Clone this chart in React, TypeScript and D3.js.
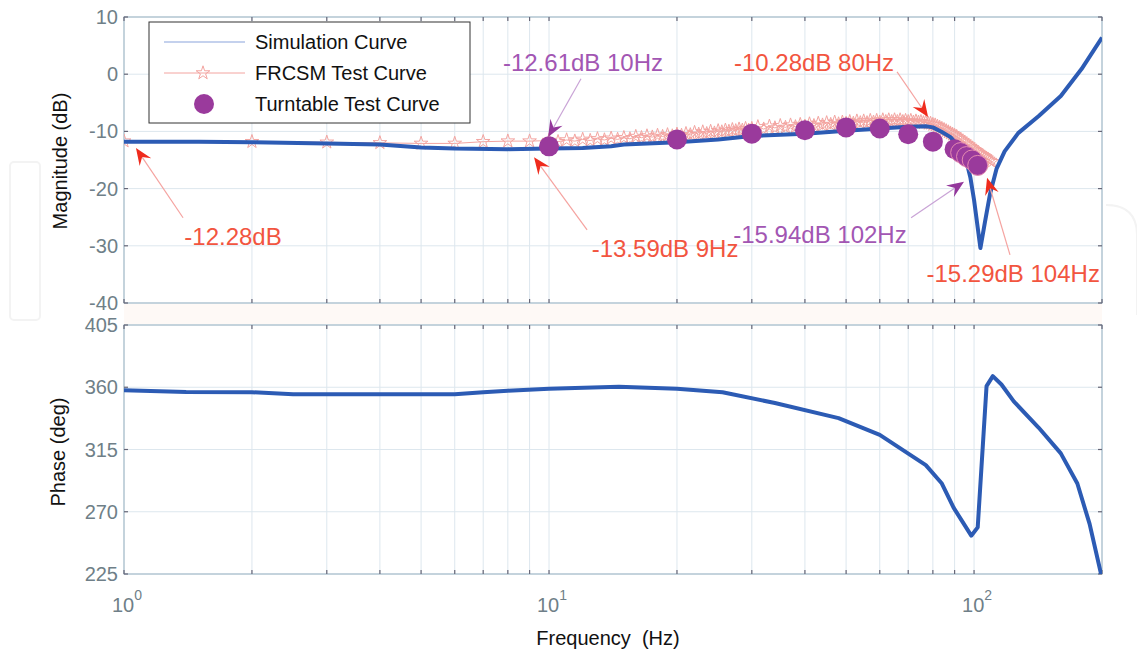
import React from "react";
import * as d3 from "d3";

// ---------- data ----------
const simFreq = [1, 1.5, 2, 3, 4, 5, 6, 8, 10, 12, 14, 15, 20, 25, 30, 40, 50, 60, 70, 77, 80, 84, 88, 92, 96, 98, 100, 103.5, 106, 109, 113, 118, 127, 142, 160, 179, 200];
const simMag = [-11.8, -11.8, -11.9, -12.1, -12.3, -12.8, -13.0, -13.1, -13.0, -12.9, -12.6, -12.3, -11.9, -11.4, -10.8, -10.4, -9.9, -9.5, -9.2, -9.1, -9.3, -10.1, -11.0, -12.6, -15.3, -18.0, -22.0, -30.4, -26.0, -21.0, -16.5, -13.5, -10.3, -7.3, -3.8, 0.9, 6.4];

const phaseFreq = [1, 1.4, 2, 2.5, 3, 4, 5, 6, 7, 8, 10, 14.6, 20, 25.6, 34, 48, 60, 77, 84, 89.5, 98.5, 102, 107, 110.7, 116, 124, 142, 160, 175, 187, 200];
const phaseDeg = [357.9, 356.6, 356.4, 355.0, 355.0, 355.0, 355.0, 355.0, 356.4, 357.5, 358.9, 360.3, 358.9, 356.4, 348.6, 337.7, 325.6, 303.7, 290.4, 273.0, 252.7, 258.7, 360.8, 368.0, 362.0, 349.8, 330.7, 312.2, 290.4, 261.2, 222.0];

const frcsmFreq = [1, 2, 3, 4, 5, 6, 7, 8, 9,
  10, 10.5, 11, 11.5, 12, 12.5, 13, 13.5, 14, 14.5, 15, 15.5, 16, 16.5, 17, 17.5, 18, 18.5, 19, 19.5,
  20, 20.5, 21, 21.5, 22, 22.5, 23, 23.5, 24, 24.5, 25, 25.5, 26, 26.5, 27, 27.5, 28, 28.5, 29, 29.5,
  30, 31, 32, 33, 34, 35, 36, 37, 38, 39, 40, 41, 42, 43, 44, 45, 46, 47, 48, 49, 50,
  51, 52, 53, 54, 55, 56, 57, 58, 59, 60, 61, 62, 63, 64, 65, 66, 67, 68, 69, 70,
  71, 72, 73, 74, 75, 76, 77, 78, 79, 80, 81, 82, 83, 84, 85, 86, 87, 88, 89, 90,
  91, 92, 93, 94, 95, 96, 97, 98, 99, 100, 101, 102, 103, 104, 105, 106, 107, 108, 109, 110];
const frcsmMag = [-11.7, -11.8, -11.9, -12.0, -12.1, -12.1, -11.8, -11.7, -11.7,
  -11.6, -11.8, -11.5, -11.7, -11.4, -11.6, -11.3, -11.5, -11.2, -11.4, -11.1, -11.3, -10.9, -11.1, -10.8, -11.0, -10.7, -10.9, -10.6, -10.8,
  -10.5, -10.7, -10.4, -10.6, -10.2, -10.5, -10.1, -10.4, -10.0, -10.3, -9.9, -10.1, -9.8, -10.0, -9.7, -9.9, -9.6, -9.8, -9.5, -9.8,
  -9.5, -9.2, -9.6, -9.1, -9.4, -9.0, -9.3, -8.9, -9.2, -8.8, -9.1, -8.7, -9.0, -8.6, -8.9, -8.5, -8.8, -8.4, -8.7, -8.4, -8.6,
  -8.3, -8.6, -8.2, -8.5, -8.2, -8.5, -8.1, -8.4, -8.1, -8.4, -8.0, -8.3, -8.0, -8.3, -8.0, -8.3, -8.0, -8.3, -8.1, -8.3,
  -8.1, -8.4, -8.2, -8.4, -8.3, -8.5, -8.4, -8.6, -8.6, -8.8, -8.9, -9.1, -9.3, -9.5, -9.7, -9.9, -10.1, -10.3, -10.5, -10.7,
  -10.9, -11.2, -11.4, -11.7, -11.9, -12.2, -12.4, -12.7, -12.9, -13.2, -13.4, -13.7, -13.9, -14.1, -14.3, -14.5, -14.7, -14.9, -15.1, -15.3];

const turnFreq = [10, 20, 30, 40, 50, 60, 70, 80, 90, 93, 96, 99, 102];
const turnMag = [-12.61, -11.4, -10.4, -9.8, -9.3, -9.5, -10.5, -11.8, -13.1, -13.7, -14.4, -15.0, -15.94];

const magTicks = [10, 0, -10, -20, -30, -40];
const phaseTicks = [405, 360, 315, 270, 225];
const decadeTicks = [1, 10, 100];
const gridFreqs = [1, 2, 3, 4, 5, 6, 7, 8, 9, 10, 20, 30, 40, 50, 60, 70, 80, 90, 100, 200];
const legendLabels = ["Simulation Curve", "FRCSM Test Curve", "Turntable Test Curve"];

// annotations: text, colour kind, text pos (f, dB), tail (f, dB), tip (f, dB)
const annText = ["-12.28dB", "-12.61dB 10Hz", "-13.59dB 9Hz", "-10.28dB 80Hz", "-15.94dB 102Hz", "-15.29dB 104Hz"];
const annKind = ["red", "purple", "red", "red", "purple", "red"];
const annTextPos = [[1.805, -28.3], [12.02, 2.1], [18.75, -30.4], [42.03, 2.1], [43.4, -28.1], [123.6, -34.8]];
const annTail = [[1.377, -25.1], [11.89, -0.8], [12.29, -27.2], [65.9, 0.4], [71.1, -25.1], [121.5, -31.6]];
const annTip = [[1.067, -12.9], [9.95, -11.0], [9.22, -14.5], [77.97, -7.5], [94.7, -18.8], [107.3, -18.1]];

// ---------- layout ----------
const W = 1137, H = 653;
const X0 = 124, X1 = 1102;
const TOP = { y0: 17, y1: 303 };
const BOT = { y0: 325, y1: 574 };
const FONT = "'Liberation Sans', Arial, sans-serif";
const BLUE = "#2c5bb4";
const PINK = "#f3a4a0";
const PURPLE = "#9a3a9c";
const RED_TXT = "#f2553f";
const PURPLE_TXT = "#a256b3";
const TICK_TXT = "#6f7f88";
const GRID = "#dde7ee";
const BOX = "#a9bfcb";

const x = d3.scaleLog().domain([1, 200]).range([X0, X1]);
const yMag = d3.scaleLinear().domain([10, -40]).range([TOP.y0, TOP.y1]);
const yPh = d3.scaleLinear().domain([405, 225]).range([BOT.y0, BOT.y1]);

function Arrow({ tail, tip, kind }: { tail: number[]; tip: number[]; kind: string }) {
  const x1 = x(tail[0]), y1 = yMag(tail[1]);
  const x2 = x(tip[0]), y2 = yMag(tip[1]);
  const dx = x2 - x1, dy = y2 - y1;
  const len = Math.hypot(dx, dy);
  const ux = dx / len, uy = dy / len;
  const nx = -uy, ny = ux;
  const L = 17, Wd = 7, notch = 6;
  const pts = [
    [x2, y2],
    [x2 - ux * L + nx * Wd, y2 - uy * L + ny * Wd],
    [x2 - ux * (L - notch), y2 - uy * (L - notch)],
    [x2 - ux * L - nx * Wd, y2 - uy * L - ny * Wd],
  ];
  const lineCol = kind === "red" ? "#f5a3a0" : "#c9a3d6";
  const headCol = kind === "red" ? "#ef2b1d" : "#93379b";
  return (
    <g>
      <line x1={x1} y1={y1} x2={x2 - ux * (L - notch)} y2={y2 - uy * (L - notch)} stroke={lineCol} strokeWidth={1.2} />
      <polygon points={pts.map((p) => p.join(",")).join(" ")} fill={headCol} />
    </g>
  );
}

function Frame({ y0, y1, yTicks, yScale }: { y0: number; y1: number; yTicks: number[]; yScale: any }) {
  return (
    <g>
      {gridFreqs.map((f) => (
        <line key={"gx" + f} x1={x(f)} x2={x(f)} y1={y0} y2={y1} stroke={GRID} strokeWidth={1} />
      ))}
      {yTicks.map((t) => (
        <line key={"gy" + t} x1={X0} x2={X1} y1={yScale(t)} y2={yScale(t)} stroke={GRID} strokeWidth={1} />
      ))}
      <rect x={X0} y={y0} width={X1 - X0} height={y1 - y0} fill="none" stroke={BOX} strokeWidth={1.2} />
      {gridFreqs.map((f) => (
        <g key={"tx" + f}>
          <line x1={x(f)} x2={x(f)} y1={y0} y2={y0 + 4} stroke="#667" strokeWidth={1.2} />
          <line x1={x(f)} x2={x(f)} y1={y1} y2={y1 - 4} stroke="#667" strokeWidth={1.2} />
        </g>
      ))}
      {yTicks.map((t) => (
        <g key={"ty" + t}>
          <line x1={X0} x2={X0 + 4} y1={yScale(t)} y2={yScale(t)} stroke="#667" strokeWidth={1.2} />
          <line x1={X1} x2={X1 - 4} y1={yScale(t)} y2={yScale(t)} stroke="#667" strokeWidth={1.2} />
          <text x={X0 - 6} y={yScale(t) + 7} textAnchor="end" fontSize={20} fill={TICK_TXT} fontFamily={FONT}>
            {t}
          </text>
        </g>
      ))}
    </g>
  );
}

export default function App() {
  const magLine = d3.line<number>().x((_, i) => x(simFreq[i])).y((d) => yMag(d));
  const phLine = d3.line<number>().x((_, i) => x(phaseFreq[i])).y((d) => yPh(d));
  const frLine = d3.line<number>().x((_, i) => x(frcsmFreq[i])).y((d) => yMag(d));
  const star = d3.symbol().type(d3.symbolStar).size(58)();

  const legX = 149, legY = 22, legW = 321, legH = 101;
  const legRows = [42, 73, 104];

  return (
    <svg width={W} height={H} style={{ position: "absolute", left: 0, top: 0, background: "#fff" }} fontFamily={FONT}>
      <defs>
        <clipPath id="clipTop">
          <rect x={X0} y={TOP.y0} width={X1 - X0} height={TOP.y1 - TOP.y0} />
        </clipPath>
        <clipPath id="clipBot">
          <rect x={X0} y={BOT.y0} width={X1 - X0} height={BOT.y1 - BOT.y0} />
        </clipPath>
      </defs>
      <rect x={0} y={0} width={W} height={H} fill="#fff" />
      <rect x={X0} y={TOP.y1 + 1} width={X1 - X0} height={BOT.y0 - TOP.y1 - 2} fill="#fef9f6" />

      {/* watermark shapes */}
      <rect x={10} y={162} width={30} height={158} rx={4} fill="none" stroke="#f3f3f3" strokeWidth={2} />
      <path d="M1106,205 Q1137,205 1137,235 L1137,315" fill="none" stroke="#f3f3f3" strokeWidth={2} />

      {/* magnitude panel */}
      <Frame y0={TOP.y0} y1={TOP.y1} yTicks={magTicks} yScale={yMag} />
      <g clipPath="url(#clipTop)">
        <path d={frLine(frcsmMag) || ""} fill="none" stroke={PINK} strokeWidth={1} />
        {frcsmMag.map((v, i) => (
          <path key={"s" + i} d={star || ""} transform={`translate(${x(frcsmFreq[i])},${yMag(v)})`} fill="none" stroke={PINK} strokeWidth={1} />
        ))}
        <path d={magLine(simMag) || ""} fill="none" stroke={BLUE} strokeWidth={4} strokeLinejoin="round" />
        {turnMag.map((v, i) => (
          <circle key={"c" + i} cx={x(turnFreq[i])} cy={yMag(v)} r={10} fill={PURPLE} stroke={i > 8 ? "#e48bb0" : "none"} strokeWidth={1} />
        ))}
      </g>

      {/* legend */}
      <rect x={legX} y={legY} width={legW} height={legH} fill="#fff" stroke="#333" strokeWidth={1} />
      <line x1={164} x2={245} y1={legRows[0]} y2={legRows[0]} stroke="#8aa3dc" strokeWidth={1.2} />
      <line x1={164} x2={245} y1={legRows[1]} y2={legRows[1]} stroke={PINK} strokeWidth={1} />
      <path d={star || ""} transform={`translate(203,${legRows[1]})`} fill="none" stroke={PINK} strokeWidth={1} />
      <circle cx={204} cy={legRows[2]} r={10} fill={PURPLE} />
      {legendLabels.map((l, i) => (
        <text key={l} x={255} y={legRows[i] + 7} fontSize={20} fill="#111">
          {l}
        </text>
      ))}

      {/* annotations */}
      {annText.map((t, i) => (
        <g key={"a" + i}>
          <Arrow tail={annTail[i]} tip={annTip[i]} kind={annKind[i]} />
          <text
            x={x(annTextPos[i][0])}
            y={yMag(annTextPos[i][1]) + 8.5}
            textAnchor="middle"
            fontSize={24}
            fill={annKind[i] === "red" ? RED_TXT : PURPLE_TXT}
          >
            {t}
          </text>
        </g>
      ))}

      {/* phase panel */}
      <Frame y0={BOT.y0} y1={BOT.y1} yTicks={phaseTicks} yScale={yPh} />
      <g clipPath="url(#clipBot)">
        <path d={phLine(phaseDeg) || ""} fill="none" stroke={BLUE} strokeWidth={4} strokeLinejoin="round" />
      </g>

      {/* x tick labels */}
      {decadeTicks.map((f, i) => (
        <text key={"xl" + f} x={x(f) + 3} y={612} textAnchor="middle" fontSize={20} fill={TICK_TXT}>
          10
          <tspan dy={-12} fontSize={14}>{i}</tspan>
        </text>
      ))}

      {/* axis titles */}
      <text transform="translate(67,161) rotate(-90)" textAnchor="middle" fontSize={20} fill="#111">
        Magnitude (dB)
      </text>
      <text transform="translate(65,452) rotate(-90)" textAnchor="middle" fontSize={20} fill="#111">
        Phase (deg)
      </text>
      <text x={608} y={645} textAnchor="middle" fontSize={20} fill="#111" style={{ whiteSpace: "pre" }}>
        {"Frequency  (Hz)"}
      </text>
    </svg>
  );
}
